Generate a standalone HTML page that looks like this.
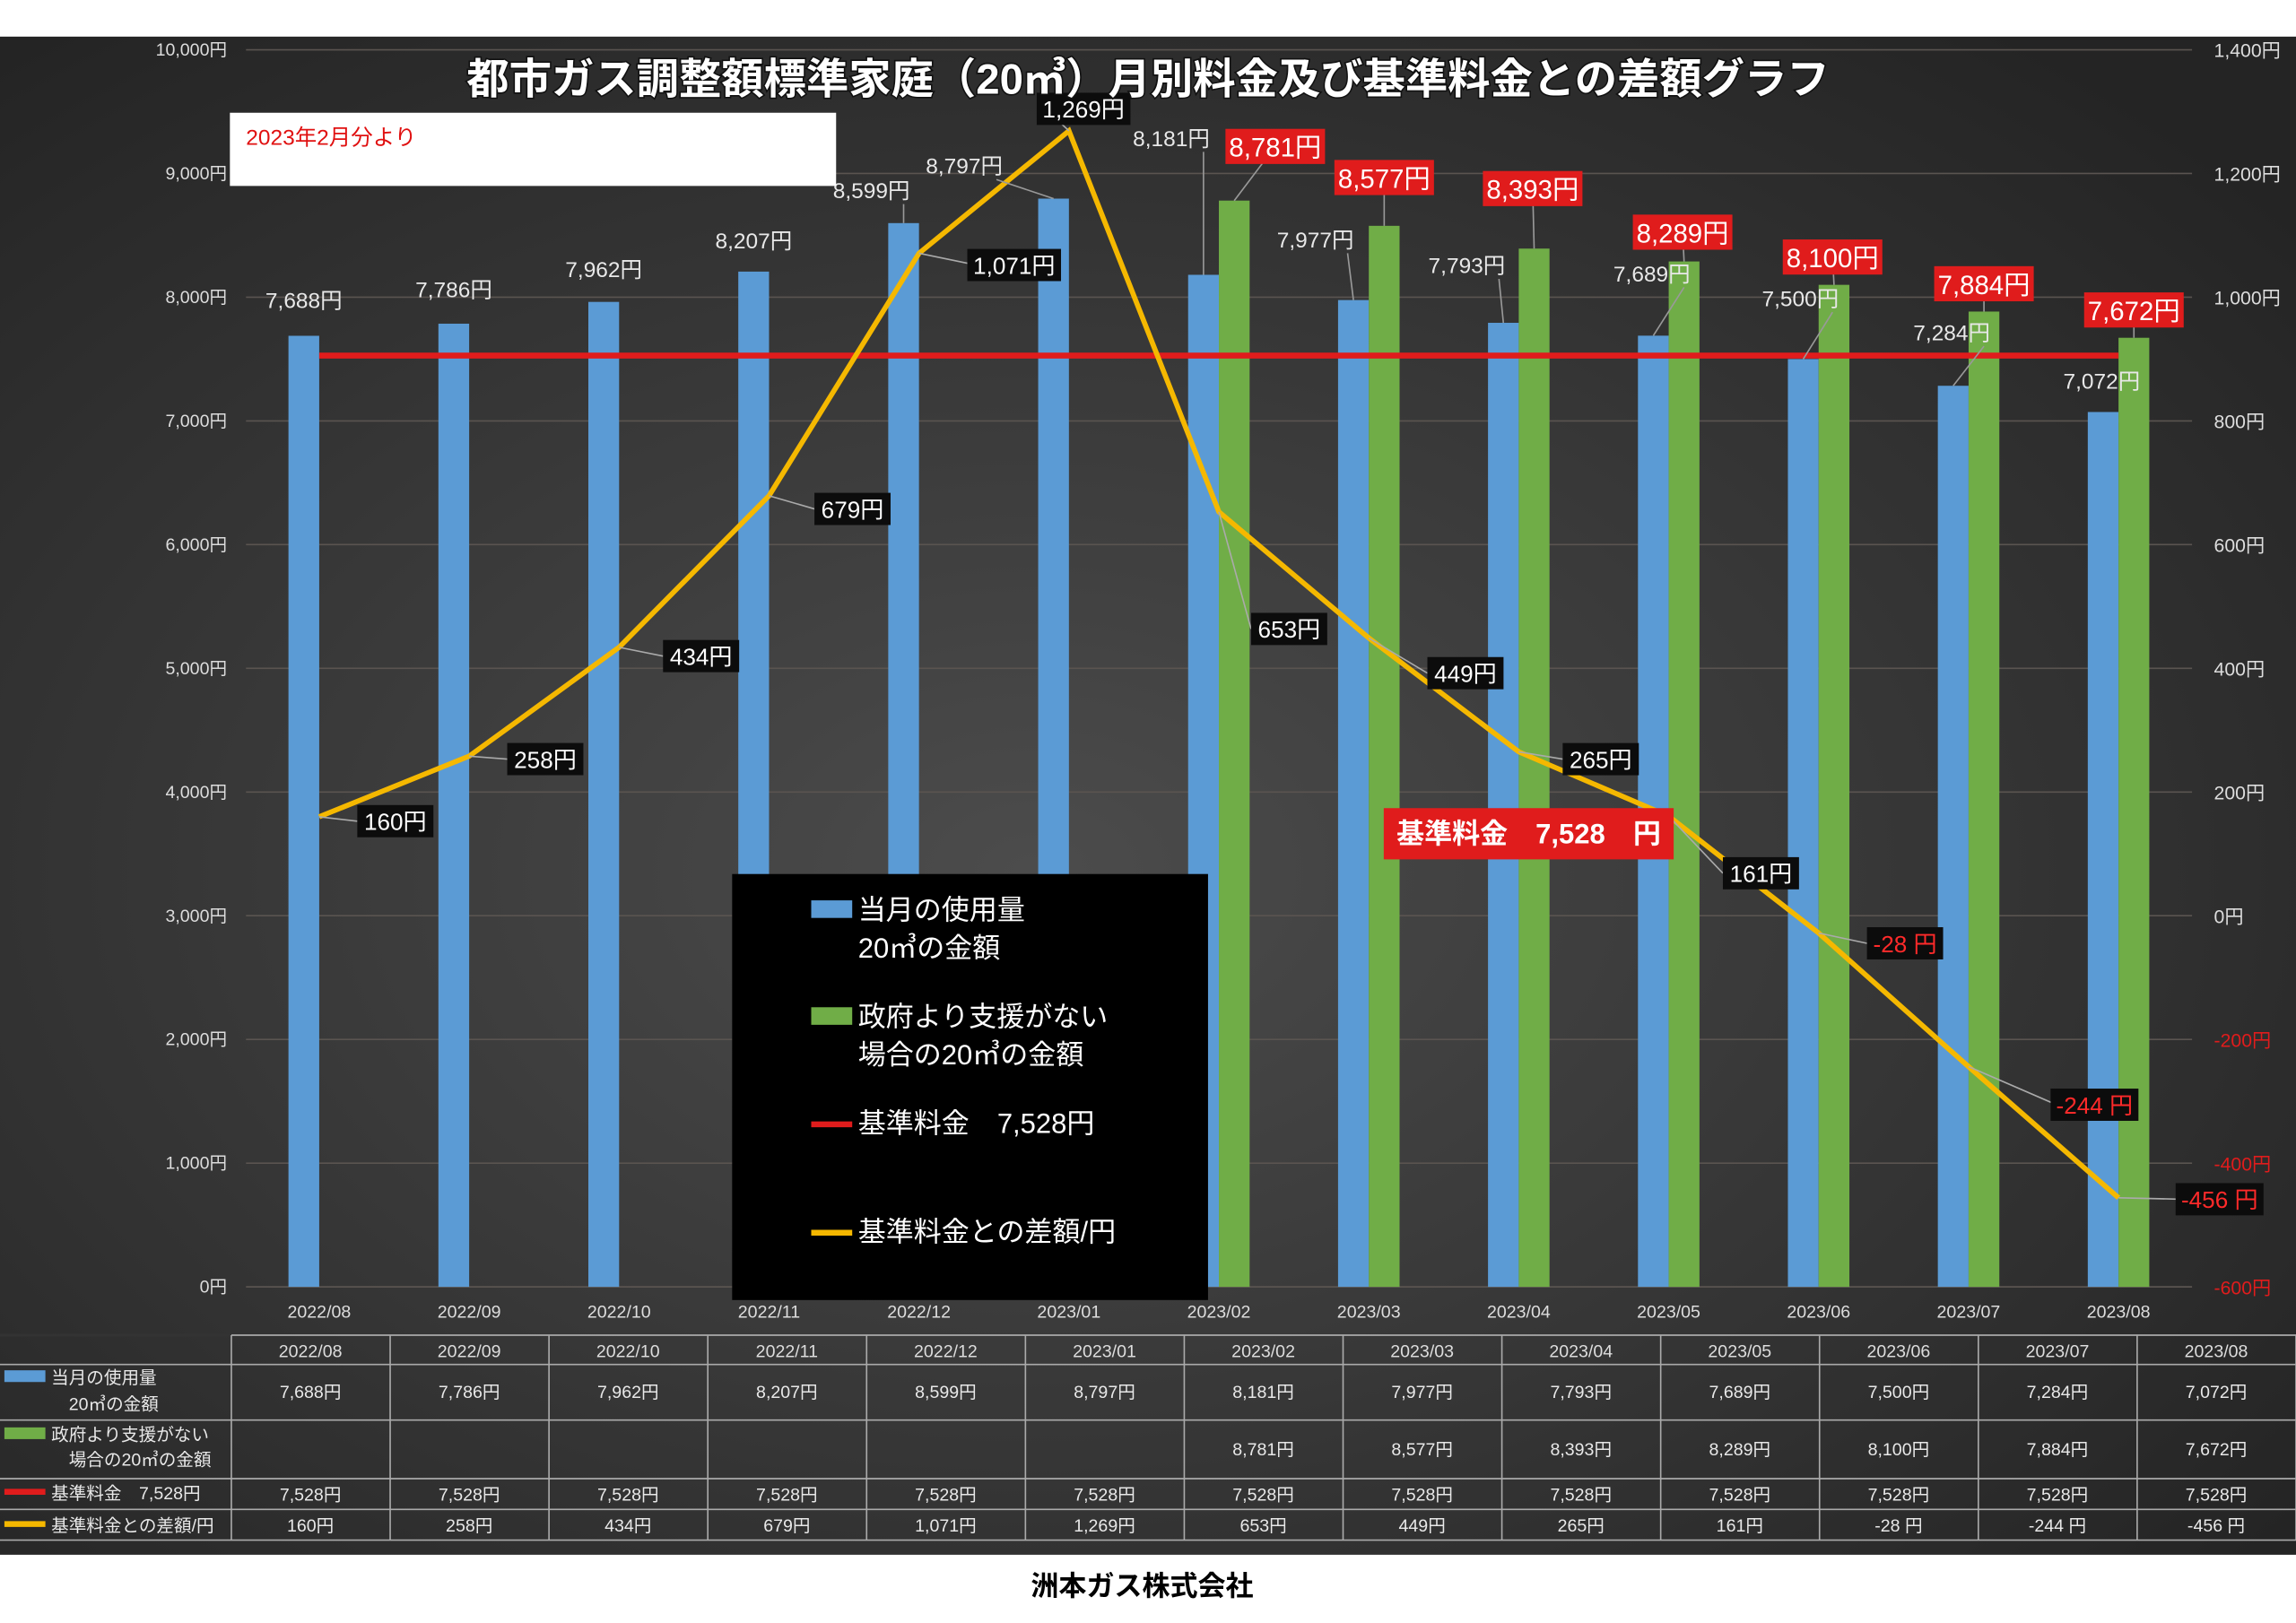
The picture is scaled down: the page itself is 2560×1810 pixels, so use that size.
<!DOCTYPE html>
<html><head><meta charset="utf-8">
<style>
html,body{margin:0;padding:0;background:#fff;}
svg{display:block;font-family:"Liberation Sans","Noto Sans CJK JP",sans-serif;}
</style></head>
<body>
<svg id="chart" width="2560" height="1810" viewBox="0 0 1568 1108.6" xmlns="http://www.w3.org/2000/svg">
<defs>
<radialGradient id="bg" cx="0.45" cy="0.55" r="0.7">
<stop offset="0" stop-color="#4c4c4c"/><stop offset="1" stop-color="#242424"/>
</radialGradient>
</defs>
<rect x="0" y="25" width="1568" height="1037" fill="url(#bg)"/>
<g id="grid"></g>
<g id="bars"></g>
<g id="lines"></g>
<g id="labels"></g>
<text x="784" y="64" text-anchor="middle" font-size="29" font-weight="bold" fill="#fff" style="paint-order:stroke" stroke="#111" stroke-width="2">都市ガス調整額標準家庭（20㎥）月別料金及び基準料金との差額グラフ</text>
<rect x="157" y="77" width="414" height="50" fill="#fff"/>
<text x="168" y="99" font-size="15" fill="#e01010">2023年2月分より</text>
<rect x="945" y="552" width="198" height="35" fill="#e01c1c"/>
<text x="1044" y="576" text-anchor="middle" font-size="19" font-weight="bold" fill="#fff">基準料金　7,528　円</text>
<g>
<rect x="500" y="597" width="325" height="291" fill="#000"/>
<rect x="554" y="615" width="28" height="12" fill="#5b9bd5"/>
<text font-size="19" fill="#fff"><tspan x="586" y="628">当月の使用量</tspan><tspan x="586" y="654">20㎥の金額</tspan></text>
<rect x="554" y="688" width="28" height="12" fill="#70ad47"/>
<text font-size="19" fill="#fff"><tspan x="586" y="701">政府より支援がない</tspan><tspan x="586" y="727">場合の20㎥の金額</tspan></text>
<line x1="554" y1="768" x2="582" y2="768" stroke="#e01c1c" stroke-width="4"/>
<text x="586" y="774" font-size="19" fill="#fff">基準料金　7,528円</text>
<line x1="554" y1="842" x2="582" y2="842" stroke="#f5b800" stroke-width="4"/>
<text x="586" y="848" font-size="19" fill="#fff">基準料金との差額/円</text>
</g>
<g id="table"></g>
<text x="780" y="1090" text-anchor="middle" font-size="19" font-weight="bold" fill="#000">洲本ガス株式会社</text>
</svg>
<script>
const categories=["2022/08","2022/09","2022/10","2022/11","2022/12","2023/01","2023/02","2023/03","2023/04","2023/05","2023/06","2023/07","2023/08"];
const usage=[7688,7786,7962,8207,8599,8797,8181,7977,7793,7689,7500,7284,7072];
const noSupport=[null,null,null,null,null,null,8781,8577,8393,8289,8100,7884,7672];
const basePrice=[7528,7528,7528,7528,7528,7528,7528,7528,7528,7528,7528,7528,7528];
const diff=[160,258,434,679,1071,1269,653,449,265,161,-28,-244,-456];
const leftTicks=[0,1000,2000,3000,4000,5000,6000,7000,8000,9000,10000];
const rightTicks=[-600,-400,-200,0,200,400,600,800,1000,1200,1400];
const blueOff=[[0,-19],[0,-18],[0,-17],[0,-16],[-22,-17],[-61,-17],[-22,-88],[-26,-36],[-25,-34],[-1,-37],[-2,-36],[-1,-31],[-1,-16]];
const greenOff=[null,null,null,null,null,null,[28,-37],[0,-33],[-1,-41],[-1,-20],[-1,-19],[0,-19],[0,-19]];
const diffOff=[[52,3],[52,2],[56,6],[57,9],[65,8],[10,-15],[48,80],[66,24],[56,5],[63,39],[59,7],[86,26],[69,1]];
const NS="http://www.w3.org/2000/svg";
function mk(p,t,a,txt){const e=document.createElementNS(NS,t);for(const k in a)e.setAttribute(k,a[k]);if(txt!=null)e.textContent=txt;p.appendChild(e);return e;}
const fmt=v=>v.toLocaleString("en-US")+"円";
const yL=v=>879-v*0.0845;
const yR=v=>625.5-v*0.4225;
const xC=i=>218+i*102.4;
const grid=document.getElementById("grid"),bars=document.getElementById("bars"),lines=document.getElementById("lines"),labels=document.getElementById("labels"),table=document.getElementById("table");
leftTicks.forEach(v=>{
 const g=mk(grid,"line",{x1:168,x2:1497,y1:yL(v),y2:yL(v),stroke:"#5a5450","stroke-width":1});
 
 
 const t=mk(grid,"text",{x:155,y:yL(v)+4,"text-anchor":"end","font-size":12,fill:"#ddd"},v.toLocaleString("en-US")+"円");
 
 
});
rightTicks.forEach(v=>{
 const t=mk(grid,"text",{x:1512,y:yR(v)+5,"font-size":13,fill:v<0?"#e01c1c":"#ddd"},v.toLocaleString("en-US")+"円");
 
 
});
categories.forEach((c,i)=>{
 const t=mk(grid,"text",{x:xC(i),y:900,"text-anchor":"middle","font-size":12,fill:"#ddd"},c);
 
 
 const b=mk(bars,"rect",{x:xC(i)-21,y:yL(usage[i]),width:21,height:879-yL(usage[i]),fill:"#5b9bd5"});
 
 
 if(noSupport[i]!=null){
  const g=mk(bars,"rect",{x:xC(i),y:yL(noSupport[i]),width:21,height:879-yL(noSupport[i]),fill:"#70ad47"});
  
  
 }
});
const rl=mk(lines,"line",{x1:xC(0),x2:xC(12),y1:yL(basePrice[0]),y2:yL(basePrice[12]),stroke:"#e01c1c","stroke-width":4});


const pl=mk(lines,"polyline",{points:diff.map((v,i)=>xC(i)+","+yR(v)).join(" "),fill:"none",stroke:"#f5b800","stroke-width":3.5});


usage.forEach((v,i)=>{
 const bx=xC(i)-10.5,by=yL(v),lx=bx+blueOff[i][0],ly=by+blueOff[i][1];
 if(Math.abs(blueOff[i][0])>20||blueOff[i][1]<-25){mk(labels,"line",{x1:lx+22,y1:ly+4,x2:bx,y2:by,stroke:"#999","stroke-width":1});}
 const t=mk(labels,"text",{x:lx,y:ly,"text-anchor":"middle","font-size":15,fill:"#e8e8e8"},fmt(v));
 
 
});
noSupport.forEach((v,i)=>{
 if(v==null)return;
 const bx=xC(i)+10.5,by=yL(v),lx=bx+greenOff[i][0],ly=by+greenOff[i][1];
 mk(labels,"line",{x1:lx,y1:ly,x2:bx,y2:by,stroke:"#999","stroke-width":1});
 const r=mk(labels,"rect",{x:lx-34,y:ly-12,width:68,height:24,fill:"#e01c1c"});
 
 
 const t=mk(labels,"text",{x:lx,y:ly+7,"text-anchor":"middle","font-size":18,fill:"#fff"},fmt(v));
 
 
});
diff.forEach((v,i)=>{
 const px=xC(i),py=yR(v),lx=px+diffOff[i][0],ly=py+diffOff[i][1];
 mk(labels,"line",{x1:px,y1:py,x2:lx-26,y2:ly,stroke:"#aaa","stroke-width":1});
 const w=v<0?(v<=-100?60:52):(Math.abs(v)>=1000?64:52);
 const r=mk(labels,"rect",{x:lx-w/2,y:ly-11,width:w,height:22,fill:"#0c0c0c"});
 
 
 const t=mk(labels,"text",{x:lx,y:ly+6,"text-anchor":"middle","font-size":16,fill:v<0?"#ff2a2a":"#fff"},v<0?(v+" 円"):fmt(v));
 
 
});
const colX=i=>158+i*108.46, rows=[912,932,970,1010,1031,1052];
rows.forEach(y=>mk(table,"line",{x1:0,x2:1568,y1:y,y2:y,stroke:"#aaa","stroke-width":1}));
mk(table,"line",{x1:0,x2:158,y1:912,y2:912,stroke:"#333","stroke-width":2});
for(let i=0;i<=13;i++)mk(table,"line",{x1:colX(i),x2:colX(i),y1:912,y2:1052,stroke:"#aaa","stroke-width":1});
const rowData=[usage,noSupport,basePrice,diff],rowMid=[951,990,1021,1042];
categories.forEach((c,i)=>{
 const t=mk(table,"text",{x:colX(i)+54,y:927,"text-anchor":"middle","font-size":12,fill:"#ddd"},c);
 
 
 rowData.forEach((arr,r)=>{
  if(arr[i]==null)return;
  const txt=(r===3&&arr[i]<0)?(arr[i]+" 円"):fmt(arr[i]);
  const e=mk(table,"text",{x:colX(i)+54,y:rowMid[r]+4,"text-anchor":"middle","font-size":12,fill:"#e8e8e8"},txt);
  
  
 });
});
const sw=[["rect","#5b9bd5"],["rect","#70ad47"],["line","#e01c1c"],["line","#f5b800"]];
const rowLab=[["当月の使用量","　20㎥の金額"],["政府より支援がない","　場合の20㎥の金額"],["基準料金　7,528円"],["基準料金との差額/円"]];
const rowTop=[[945,963],[984,1001],[1024],[1046]];
rowLab.forEach((l,r)=>{
 const sy=rowTop[r][0]-5;
 if(sw[r][0]==="rect")mk(table,"rect",{x:3,y:sy-4,width:28,height:8,fill:sw[r][1]});
 else mk(table,"line",{x1:3,x2:31,y1:sy,y2:sy,stroke:sw[r][1],"stroke-width":4});
 l.forEach((s,k)=>{const e=mk(table,"text",{x:35,y:rowTop[r][k],"font-size":12,fill:"#e8e8e8"},s);
 
 });
});
</script>
</body></html>
